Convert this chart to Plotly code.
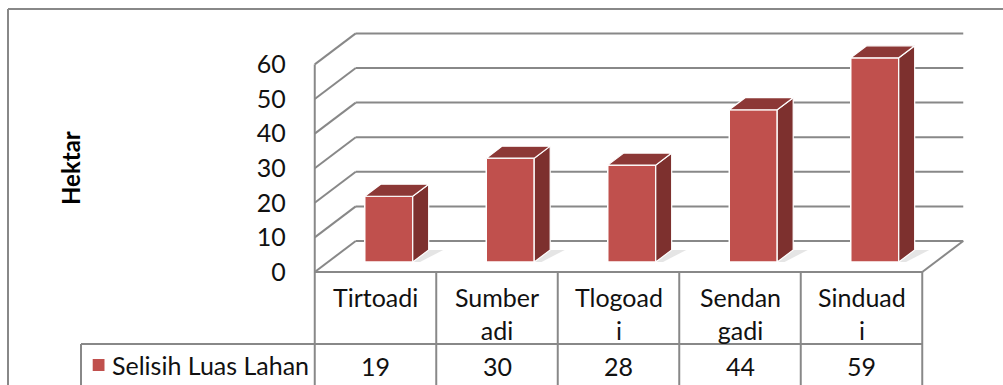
import plotly.graph_objects as go

# ---- data ----
categories = ["Tirtoadi", "Sumberadi", "Tlogoadi", "Sendangadi", "Sinduadi"]
category_labels = ["Tirtoadi", "Sumber<br>adi", "Tlogoad<br>i", "Sendan<br>gadi", "Sinduad<br>i"]
values = [19, 30, 28, 44, 59]
series_name = "Selisih Luas Lahan"
y_ticks = [0, 10, 20, 30, 40, 50, 60]
y_title = "Hektar"

# ---- styling / geometry ----
W, H = 1003, 385
FONT = "Lato"
FS = 25
TXT = "#111111"
C_FRONT = "#C0504D"
C_TOP = "#8C3836"
C_SIDE = "#7D302E"
C_LINE = "#888888"

COL_PX = 121.5            # px per category
COL0_PX = 375.5           # px of first category centre
Y0_PX = 272               # px of value 0 on the front plane
UNIT_PX = 3.46            # px per value unit
xr = [-COL0_PX / COL_PX, (W - COL0_PX) / COL_PX]
yr = [-(H - Y0_PX) / UNIT_PX, Y0_PX / UNIT_PX]
def xpx(p): return (p - COL0_PX) / COL_PX
def ypx(p): return (Y0_PX - p) / UNIT_PX

DX = 41 / COL_PX          # depth offset of the back wall
DY = 31 / UNIT_PX
D1, D2 = 0.323, 0.712     # front / back depth of the bars
BW = 0.395                # bar width
n = len(categories)
XL, XR = -0.5, n - 0.5
YMAX = max(y_ticks)

fig = go.Figure()

shapes = []
def line(x0, y0, x1, y1, width=2, color=C_LINE, layer="below"):
    shapes.append(dict(type="line", xref="x", yref="y", x0=x0, y0=y0, x1=x1, y1=y1,
                       line=dict(color=color, width=width), layer=layer))

# back wall gridlines + left wall diagonals
for v in y_ticks:
    line(XL + DX, v + DY, XR + DX, v + DY)
    line(XL, v, XL + DX, v + DY)
# left wall front edge, floor edges
line(XL, 0, XL, YMAX)
line(XR, 0, XR + DX, DY)

# table
row1 = ypx(344)
leg_left = xpx(81)
line(XL, 0, XR, 0, layer="above")
line(leg_left, row1, XR, row1, layer="above")
line(leg_left, row1, leg_left, yr[0], layer="above")
for k in range(n + 1):
    line(XL + k, 0, XL + k, yr[0], layer="above")

# legend key
shapes.append(dict(type="rect", xref="x", yref="y", x0=xpx(92.7), x1=xpx(104.5),
                   y0=ypx(359), y1=ypx(371), fillcolor=C_FRONT, line=dict(width=0)))

# outer chart border
shapes.append(dict(type="line", xref="paper", yref="paper", x0=8 / W, y0=1 - 9 / H, x1=1, y1=1 - 9 / H,
                   line=dict(color=C_LINE, width=2)))
shapes.append(dict(type="line", xref="paper", yref="paper", x0=8 / W, y0=1 - 9 / H, x1=8 / W, y1=0,
                   line=dict(color=C_LINE, width=2)))

# floor shadows
sx, sy = [], []
ddx, ddy = (D2 - D1) * DX, (D2 - D1) * DY
for i, v in enumerate(values):
    x_right = i + D1 * DX + BW / 2
    b = D1 * DY
    sx += [x_right, x_right + ddx, x_right + ddx + 0.12, x_right + 0.06, None]
    sy += [b, b + ddy, b + ddy, b, None]
fig.add_trace(go.Scatter(x=sx, y=sy, fill="toself", mode="lines", line=dict(width=0),
                         fillcolor="rgba(150,150,150,0.25)", hoverinfo="skip", showlegend=False))

# bar front faces
bar_x = [i + D1 * DX for i in range(n)]
base = D1 * DY
fig.add_trace(go.Bar(x=bar_x, y=values, base=[base] * n, width=BW, name=series_name,
                     marker=dict(color=C_FRONT, line=dict(color="white", width=1.5)),
                     showlegend=False, hovertext=categories))

# side and top faces
side_x, side_y, top_x, top_y = [], [], [], []
for i, v in enumerate(values):
    xl = bar_x[i] - BW / 2
    xrr = bar_x[i] + BW / 2
    t = base + v
    side_x += [xrr, xrr + ddx, xrr + ddx, xrr, xrr, None]
    side_y += [base, base + ddy, t + ddy, t, base, None]
    top_x += [xl, xrr, xrr + ddx, xl + ddx, xl, None]
    top_y += [t, t, t + ddy, t + ddy, t, None]
fig.add_trace(go.Scatter(x=side_x, y=side_y, fill="toself", mode="lines", fillcolor=C_SIDE,
                         line=dict(color="white", width=1.2), hoverinfo="skip", showlegend=False))
fig.add_trace(go.Scatter(x=top_x, y=top_y, fill="toself", mode="lines", fillcolor=C_TOP,
                         line=dict(color="white", width=1.2), hoverinfo="skip", showlegend=False))

annotations = []
font = dict(family=FONT, size=FS, color=TXT)
for i, lab in enumerate(category_labels):
    annotations.append(dict(x=i, y=ypx(280), xref="x", yref="y", text=lab, showarrow=False,
                            xanchor="center", yanchor="top", font=font))
    annotations.append(dict(x=i, y=ypx(365.5), xref="x", yref="y", text=str(values[i]), showarrow=False,
                            xanchor="center", yanchor="middle", font=font))
annotations.append(dict(x=xpx(110), y=ypx(365), xref="x", yref="y", text=series_name, showarrow=False,
                        xanchor="left", yanchor="middle", font=font))
annotations.append(dict(x=xpx(70), y=ypx(168), xref="x", yref="y", text="<b>" + y_title + "</b>",
                        showarrow=False, textangle=-90, xanchor="center", yanchor="middle",
                        font=dict(family=FONT, size=24, color="#000000")))

fig.update_layout(
    width=W, height=H, margin=dict(l=0, r=0, t=0, b=0),
    paper_bgcolor="white", plot_bgcolor="white",
    shapes=shapes, annotations=annotations, showlegend=False,
    xaxis=dict(range=xr, visible=False, fixedrange=True),
    yaxis=dict(range=yr, anchor="free", position=(COL0_PX - COL_PX / 2) / W,
               tickvals=y_ticks, showgrid=False, zeroline=False, showline=False,
               ticks="outside", ticklen=24, tickcolor="rgba(0,0,0,0)",
               tickfont=dict(family=FONT, size=FS, color=TXT), fixedrange=True),
)

fig.write_html("out.html")
